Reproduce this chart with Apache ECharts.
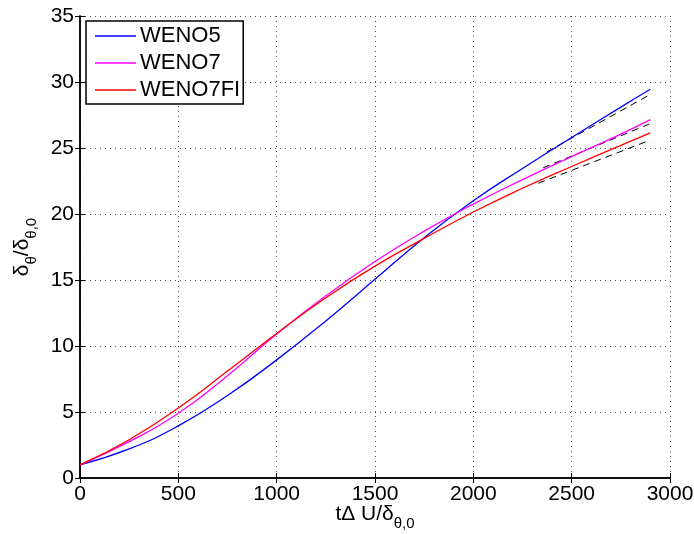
<!DOCTYPE html>
<html><head><meta charset="utf-8">
<script src="https://cdn.jsdelivr.net/npm/echarts@6/dist/echarts.min.js"></script>
<style>html,body{margin:0;padding:0;background:#fff}#c{width:694px;height:534px}</style>
</head><body><div id="c"></div>
<script>
const xs = [0, 250, 500, 750, 1000, 1250, 1500, 1750, 2000, 2250, 2500, 2750, 2900];
const weno5 = [1, 2.2, 3.95, 6.25, 8.95, 11.9, 15.05, 18.2, 21.0, 23.45, 25.8, 28.1, 29.45];
const weno7 = [1, 2.75, 4.9, 7.75, 10.9, 13.8, 16.4, 18.7, 20.75, 22.6, 24.35, 26.05, 27.15];
const weno7fi = [1, 2.9, 5.3, 8.1, 10.95, 13.65, 16.05, 18.15, 20.15, 21.95, 23.6, 25.2, 26.15];
const refX = [[2373, 2900], [2355, 2900], [2330, 2900]];
const refY = [[24.7, 29.06], [23.5, 26.85], [22.33, 25.6]];
const names = ['WENO5', 'WENO7', 'WENO7FI'];
const colors = ['#0000ff', '#ff00ff', '#ff0000'];

const font = 'Liberation Sans, Arial, Helvetica, sans-serif';
const curves = [weno5, weno7, weno7fi];
const series = curves.map((ys, i) => ({
  name: names[i], type: 'line', smooth: 0.5, showSymbol: false, symbol: 'none',
  data: xs.map((x, j) => [x, ys[j]]),
  lineStyle: { color: colors[i], width: 1.3 }, itemStyle: { color: colors[i] },
  z: 3
}));
refX.forEach((rx, i) => {
  series.push({
    name: 'ref' + i, type: 'line', showSymbol: false, symbol: 'none', silent: true,
    data: rx.map((x, j) => [x, refY[i][j]]),
    lineStyle: { color: '#000', width: 1, type: [7, 5] }, z: 2
  });
});

const axisCommon = {
  axisLine: { show: true, lineStyle: { color: '#000', width: 1.5 } },
  axisTick: { show: true, inside: true, length: 5, lineStyle: { color: '#000', width: 1 } },
};
const chart = echarts.init(document.getElementById('c'));
chart.setOption({
  animation: false,
  backgroundColor: '#fff',
  grid: { left: 80, right: 24, top: 16, bottom: 56, containLabel: false, outerBoundsMode: 'none' },
  legend: {
    data: names, orient: 'vertical', left: 86, top: 21,
    icon: 'rect', itemWidth: 41, itemHeight: 1.5, itemGap: 5,
    backgroundColor: '#fff', borderColor: '#000', borderWidth: 1.5,
    padding: [4, 3, 3, 9],
    textStyle: { fontFamily: font, fontSize: 22, color: '#000', padding: [0, 0, 0, -1] }
  },
  xAxis: [{
    type: 'value', min: 0, max: 3000, interval: 500, ...axisCommon,
    axisLabel: { fontFamily: font, fontSize: 21, color: '#000', margin: 6, formatter: v => String(v) },
    splitLine: { show: true, lineStyle: { color: '#555', type: [1, 4], width: 1 } },
    name: '{a|tΔ U/δ}{s|θ,0}', nameLocation: 'middle', nameGap: 20, nameMoveOverlap: false,
    nameTextStyle: { verticalAlign: 'top', rich: {
      a: { fontFamily: font, fontSize: 21, color: '#000' },
      s: { fontFamily: font, fontSize: 15, color: '#000', padding: [18, 0, 0, 0] }
    } }
  }, {
    type: 'value', position: 'top', min: 0, max: 3000, interval: 500, ...axisCommon,
    axisLabel: { show: false }, splitLine: { show: false }
  }],
  yAxis: [{
    type: 'value', min: 0, max: 35, interval: 5, ...axisCommon,
    axisLabel: { fontFamily: font, fontSize: 21, color: '#000', margin: 6 },
    splitLine: { show: true, lineStyle: { color: '#555', type: [1, 4], width: 1 } },
    name: '{a|δ}{s|θ}{a|/δ}{s|θ,0}', nameLocation: 'middle', nameGap: 36, nameRotate: 90,
    nameTextStyle: { rich: {
      a: { fontFamily: font, fontSize: 21, color: '#000' },
      s: { fontFamily: font, fontSize: 15, color: '#000', padding: [20, 0, 0, 0] }
    } }
  }, {
    type: 'value', position: 'right', min: 0, max: 35, interval: 5, ...axisCommon,
    axisLabel: { show: false }, splitLine: { show: false }
  }],
  series: series
});
</script></body></html>
